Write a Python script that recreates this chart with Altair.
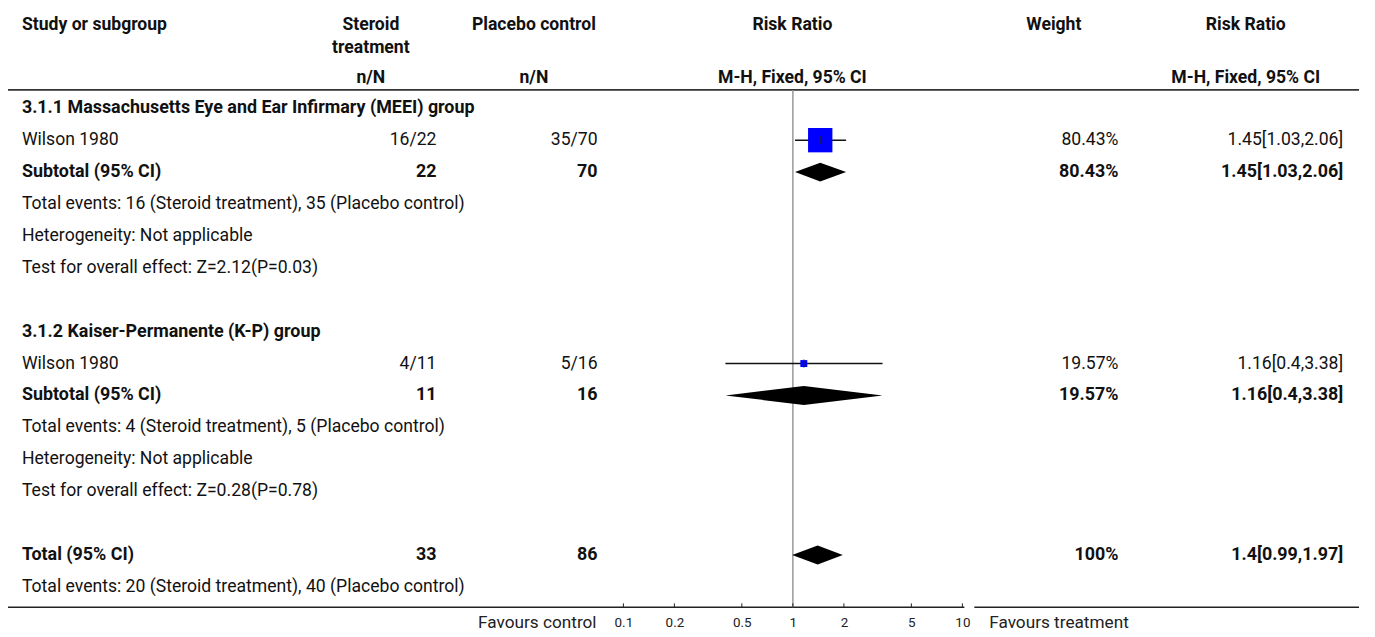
import altair as alt
import pandas as pd

# ---------------- data ----------------
row_labels = [
    "3.1.1 Massachusetts Eye and Ear Infirmary (MEEI) group",
    "Wilson 1980",
    "Subtotal (95% CI)",
    "Total events: 16 (Steroid treatment), 35 (Placebo control)",
    "Heterogeneity: Not applicable",
    "Test for overall effect: Z=2.12(P=0.03)",
    "",
    "3.1.2 Kaiser-Permanente (K-P) group",
    "Wilson 1980",
    "Subtotal (95% CI)",
    "Total events: 4 (Steroid treatment), 5 (Placebo control)",
    "Heterogeneity: Not applicable",
    "Test for overall effect: Z=0.28(P=0.78)",
    "",
    "Total (95% CI)",
    "Total events: 20 (Steroid treatment), 40 (Placebo control)",
]
bold_rows = [0, 2, 7, 9, 14]
treat_col = ["", "16/22", "22", "", "", "", "", "", "4/11", "11", "", "", "", "", "33", ""]
ctrl_col = ["", "35/70", "70", "", "", "", "", "", "5/16", "16", "", "", "", "", "86", ""]
weight_col = ["", "80.43%", "80.43%", "", "", "", "", "", "19.57%", "19.57%", "", "", "", "", "100%", ""]
rr_col = ["", "1.45[1.03,2.06]", "1.45[1.03,2.06]", "", "", "", "", "", "1.16[0.4,3.38]",
          "1.16[0.4,3.38]", "", "", "", "", "1.4[0.99,1.97]", ""]

study_rows = [1, 8]
study_est = [1.45, 1.16]
study_lo = [1.03, 0.4]
study_hi = [2.06, 3.38]
study_weight = [80.43, 19.57]

pooled_rows = [2, 9, 14]
pooled_est = [1.45, 1.16, 1.4]
pooled_lo = [1.03, 0.4, 0.99]
pooled_hi = [2.06, 3.38, 1.97]

tick_values = [0.1, 0.2, 0.5, 1, 2, 5, 10]

# ---------------- layout ----------------
W, H = 1359, 601
FONT = "Roboto"
FS = 17.7
FSB = 18.0
ROW_H = 32.1
DIAMOND_HALF = 9.5 / ROW_H

table = pd.DataFrame({
    "row": list(range(len(row_labels))),
    "label": row_labels,
    "bold": [i in bold_rows for i in range(len(row_labels))],
    "treat": treat_col,
    "ctrl": ctrl_col,
    "weight": weight_col,
    "rr": rr_col,
})

studies = pd.DataFrame({"row": study_rows, "est": study_est, "lo": study_lo,
                        "hi": study_hi, "w": study_weight})

dia_records = []
for k, (r, e, lo, hi) in enumerate(zip(pooled_rows, pooled_est, pooled_lo, pooled_hi)):
    dia_records += [
        {"id": k, "x": lo, "top": r, "bot": r},
        {"id": k, "x": e, "top": r - DIAMOND_HALF, "bot": r + DIAMOND_HALF},
        {"id": k, "x": hi, "top": r, "bot": r},
    ]
diamonds = pd.DataFrame(dia_records)
ticks = pd.DataFrame({"t": tick_values})

xscale = alt.Scale(type="log", domain=[0.1, 10], range=[619, 960])
yscale = alt.Scale(domain=[-99 / ROW_H, (H - 99) / ROW_H], range=[0, H])
xaxis = alt.Axis(values=tick_values, format="~g", domain=False, ticks=False, tickSize=0,
                 grid=False, title=None, labelPadding=8, labelFontSize=13.5,
                 labelFont=FONT, labelColor="#222", labelFlush=False)


def X(field):
    return alt.X(field, type="quantitative", scale=xscale, axis=xaxis)


def Y(field):
    return alt.Y(field, type="quantitative", scale=yscale, axis=None)


base = alt.Chart(table)
layers = []


def text_col(field, xpos, align):
    for b in (False, True):
        layers.append(
            base.transform_filter(alt.datum.bold == b)
            .mark_text(align=align, baseline="middle", font=FONT, fontSize=FSB if b else FS,
                       fontWeight="bold" if b else "normal", color="#111")
            .encode(x=alt.value(xpos), y=Y("row"), text=alt.Text(field, type="nominal"))
        )


text_col("label", 14, "left")
text_col("treat", 431, "right")
text_col("ctrl", 593, "right")
text_col("weight", 1117, "right")
text_col("rr", 1343, "right")

# headers
hdr = [
    ("Study or subgroup", 14, 15, "left"),
    ("Steroid", 365, 15, "center"),
    ("treatment", 365, 38, "center"),
    ("n/N", 365, 69, "center"),
    ("Placebo control", 529, 15, "center"),
    ("n/N", 529, 69, "center"),
    ("Risk Ratio", 789, 15, "center"),
    ("M-H, Fixed, 95% CI", 789, 69, "center"),
    ("Weight", 1052, 15, "center"),
    ("Risk Ratio", 1245, 15, "center"),
    ("M-H, Fixed, 95% CI", 1245, 69, "center"),
]
for txt, xp, yp, al in hdr:
    layers.append(
        alt.Chart(pd.DataFrame({"t": [txt]}))
        .mark_text(align=al, baseline="middle", font=FONT, fontSize=FS, fontWeight="bold", color="#111")
        .encode(x=alt.value(xp), y=alt.value(yp), text="t:N")
    )

# favours labels
for txt, xp, al in [("Favours control", 592, "right"), ("Favours treatment", 987, "left")]:
    layers.append(
        alt.Chart(pd.DataFrame({"t": [txt]}))
        .mark_text(align=al, baseline="middle", font=FONT, fontSize=17.3, color="#222")
        .encode(x=alt.value(xp), y=alt.value(617), text="t:N")
    )

# horizontal rules
one = alt.Chart(pd.DataFrame({"a": [0]}))
layers.append(one.mark_rule(color="#333", strokeWidth=2).encode(
    x=alt.value(0), x2=alt.value(W), y=alt.value(80.5)))
layers.append(one.mark_rule(color="#222", strokeWidth=1.5).encode(
    x=alt.value(0), x2=alt.value(962), y=alt.value(H)))
layers.append(one.mark_rule(color="#222", strokeWidth=1.5).encode(
    x=alt.value(972), x2=alt.value(W), y=alt.value(H)))

# reference line at 1
layers.append(alt.Chart(pd.DataFrame({"v": [1]})).mark_rule(color="#999", strokeWidth=1.5).encode(
    x=X("v"), y=alt.value(81), y2=alt.value(H)))

# axis ticks (pointing up)
layers.append(alt.Chart(ticks).mark_rule(color="#222", strokeWidth=1).encode(
    x=X("t"), y=alt.value(H - 4), y2=alt.value(H)))

# CI lines
layers.append(alt.Chart(studies).mark_rule(color="#111", strokeWidth=1.5).encode(
    x=X("lo"), x2="hi:Q", y=Y("row")))
# squares
layers.append(alt.Chart(studies).mark_square(color="#0000ff", opacity=1, filled=True).encode(
    x=X("est"), y=Y("row"),
    size=alt.Size("w:Q", scale=alt.Scale(domain=[19.57, 80.43], range=[49, 600]), legend=None)))
# point estimate tick
layers.append(alt.Chart(studies).mark_tick(orient="vertical", color="#222", size=8, thickness=1.5).encode(
    x=X("est"), y=Y("row")))
# diamonds
layers.append(alt.Chart(diamonds).mark_area(color="#000", opacity=1).encode(
    x=X("x"), y=Y("top"), y2="bot:Q", detail="id:N"))

chart = alt.layer(*layers).properties(
    width=W, height=H,
    padding={"left": 0, "top": 0, "right": 8, "bottom": 28},
    autosize=alt.AutoSizeParams(type="none"),
).configure_view(stroke=None).configure_axis(labelFont=FONT)

chart.save("out.html", embed_options={"renderer": "svg", "actions": False})
